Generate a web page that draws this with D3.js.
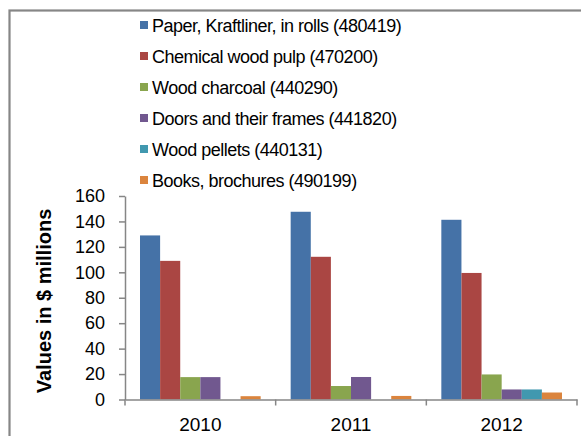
<!DOCTYPE html>
<html><head><meta charset="utf-8">
<script src="https://cdn.jsdelivr.net/npm/d3@7"></script>
<style>body{margin:0;background:#fff}svg{display:block;font-family:"Liberation Sans",Arial,sans-serif}</style>
</head><body>
<svg id="c" width="581" height="436"></svg>
<script>
const years = ["2010", "2011", "2012"];
const seriesNames = ["Paper, Kraftliner, in rolls (480419)", "Chemical wood pulp (470200)", "Wood charcoal (440290)", "Doors and their frames (441820)", "Wood pellets (440131)", "Books, brochures (490199)"];
const seriesColors = ["#4572A7", "#AA4643", "#89A54E", "#71588F", "#4198AF", "#DB843D"];
const paper = [129, 147.6, 141.3];
const pulp = [109, 112.2, 99.5];
const charcoal = [17.6, 10.6, 19.7];
const doors = [17.6, 17.7, 7.9];
const pellets = [0, 0, 7.9];
const books = [2.6, 2.8, 5.5];
const yTicks = [0, 20, 40, 60, 80, 100, 120, 140, 160];

const seriesValues = [paper, pulp, charcoal, doors, pellets, books];
const svg = d3.select("#c");
const axisColor = "#868686";

// outer frame
svg.append("rect").attr("x", 9.5).attr("y", 10.5).attr("width", 600).attr("height", 460)
  .attr("fill", "none").attr("stroke", axisColor).attr("stroke-width", 2.2);

const pLeft = 125, pRight = 577, pTop = 196, pBottom = 399.5;
const x0 = d3.scaleBand().domain(years).range([pLeft, pRight]).paddingInner(0).paddingOuter(0);
const x1 = d3.scaleBand().domain(d3.range(6)).range([15, x0.bandwidth() - 15]);
const y = d3.scaleLinear().domain([0, 160]).range([pBottom, pTop]);

// bars
const groups = svg.append("g").selectAll("g").data(years).join("g")
  .attr("transform", d => `translate(${x0(d)},0)`);
groups.selectAll("rect").data((d, i) => seriesValues.map((s, k) => ({k, v: s[i]})))
  .join("rect")
  .attr("x", d => x1(d.k)).attr("width", x1.bandwidth())
  .attr("y", d => y(d.v)).attr("height", d => y(0) - y(d.v))
  .attr("fill", d => seriesColors[d.k]);

// y axis
const ya = svg.append("g").attr("transform", `translate(${pLeft},0)`)
  .call(d3.axisLeft(y).tickValues(yTicks).tickSize(6).tickSizeOuter(0).tickPadding(14));
ya.select(".domain").attr("stroke", axisColor).attr("stroke-width", 1.5);
ya.selectAll(".tick line").attr("stroke", axisColor).attr("stroke-width", 1.5);
ya.selectAll("text").attr("font-size", 18).attr("fill", "#000").attr("font-family", "Liberation Sans, Arial, sans-serif");

// x axis
const xa = svg.append("g").attr("transform", `translate(0,${pBottom})`)
  .call(d3.axisBottom(x0).tickSize(0).tickPadding(18));
xa.select(".domain").attr("stroke", axisColor).attr("stroke-width", 1.5);
xa.selectAll("text").attr("font-size", 19).attr("fill", "#000").attr("font-family", "Liberation Sans, Arial, sans-serif");
const bounds = years.map(d => x0(d)).concat([x0(years[years.length - 1]) + x0.bandwidth()]);
xa.selectAll(".bound").data(bounds).join("line").attr("class", "bound")
  .attr("x1", d => d).attr("x2", d => d).attr("y1", 0).attr("y2", 6)
  .attr("stroke", axisColor).attr("stroke-width", 1.5);

// y title
svg.append("text").attr("transform", "translate(51,301) rotate(-90)")
  .attr("text-anchor", "middle").attr("font-size", 20).attr("font-weight", "bold")
  .text("Values in $ millions");

// legend
const lg = svg.append("g").selectAll("g").data(seriesNames).join("g")
  .attr("transform", (d, i) => `translate(140,${25 + i * 31})`);
lg.append("rect").attr("x", 0).attr("y", -4).attr("width", 8).attr("height", 8)
  .attr("fill", (d, i) => seriesColors[i]);
lg.append("text").attr("x", 12).attr("y", 6.5).attr("font-size", 18).attr("letter-spacing", -0.5)
  .text(d => d);
</script>
</body></html>
